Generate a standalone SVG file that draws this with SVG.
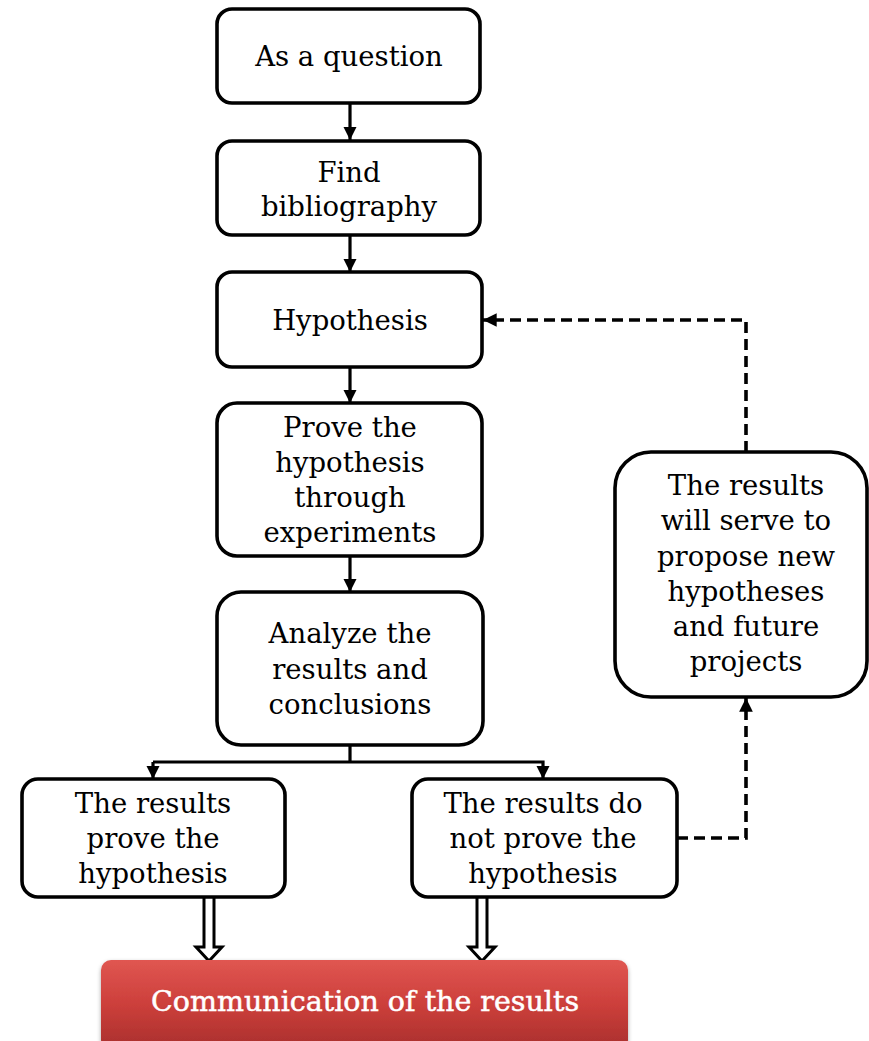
<svg xmlns="http://www.w3.org/2000/svg" width="869" height="1041" viewBox="0 0 869 1041">
<defs>
<style>
.box{fill:#fff;stroke:#000;stroke-width:3.6}
.t{font-family:"DejaVu Serif","Liberation Serif",serif;font-size:27.5px;fill:#000;text-anchor:middle}
.ln{fill:none;stroke:#000;stroke-width:3.2}
.dash{fill:none;stroke:#000;stroke-width:3.6;stroke-dasharray:11,6}
.hollow{fill:#fff;stroke:#000;stroke-width:3;stroke-linejoin:miter}
.ct{font-family:"DejaVu Serif","Liberation Serif",serif;font-size:28.5px;fill:#fff;stroke:#fff;stroke-width:0.5;text-anchor:middle}
</style>
<marker id="ah" viewBox="0 0 10 10" refX="10" refY="5" markerWidth="4.2" markerHeight="4.2" markerUnits="strokeWidth" orient="auto">
<path d="M0,0 L10,5 L0,10 z" fill="#000"/>
</marker>
<marker id="ahd" viewBox="0 0 10 10" refX="10" refY="5" markerWidth="3.8" markerHeight="3.8" markerUnits="strokeWidth" orient="auto">
<path d="M0,0 L10,5 L0,10 z" fill="#000"/>
</marker>
<linearGradient id="red" x1="0" y1="0" x2="0" y2="1">
<stop offset="0" stop-color="#e05651"/>
<stop offset="0.5" stop-color="#cc3f3b"/>
<stop offset="1" stop-color="#a82f2c"/>
</linearGradient>
<filter id="sh" x="-5%" y="-10%" width="110%" height="130%">
<feDropShadow dx="0" dy="2" stdDeviation="2" flood-color="#000" flood-opacity="0.35"/>
</filter>
</defs>

<g id="connectors">
<line class="ln" x1="350" y1="103" x2="350" y2="140" marker-end="url(#ah)"/>
<line class="ln" x1="350" y1="235" x2="350" y2="272" marker-end="url(#ah)"/>
<line class="ln" x1="350" y1="367" x2="350" y2="403" marker-end="url(#ah)"/>
<line class="ln" x1="350" y1="556" x2="350" y2="592" marker-end="url(#ah)"/>
<polyline class="ln" points="350,745 350,762"/>
<polyline class="ln" points="153,762 543,762 543,779" marker-end="url(#ah)"/>
<line class="ln" x1="153" y1="762" x2="153" y2="779" marker-end="url(#ah)"/>
<polyline class="dash" points="677,838 746,838 746,698" marker-end="url(#ahd)"/>
<polyline class="dash" points="746,452 746,320 483,320" marker-end="url(#ahd)"/>
<path class="hollow" d="M204,897 V947 H196 L209,961 L222,947 H214 V897"/>
<path class="hollow" d="M477,897 V947 H469 L482,961 L495,947 H487 V897"/>
</g>

<g id="n1">
<rect class="box" x="217" y="9" width="263" height="94" rx="15"/>
<text class="t" x="349" y="66">As a question</text>
</g>
<g id="n2">
<rect class="box" x="217" y="141" width="263" height="94" rx="15"/>
<text class="t" x="349" y="182">Find</text>
<text class="t" x="349" y="216">bibliography</text>
</g>
<g id="n3">
<rect class="box" x="217" y="272" width="265" height="95" rx="15"/>
<text class="t" x="350" y="330">Hypothesis</text>
</g>
<g id="n4">
<rect class="box" x="217" y="403" width="265" height="153" rx="20"/>
<text class="t" x="350" y="437">Prove the</text>
<text class="t" x="350" y="472">hypothesis</text>
<text class="t" x="350" y="507">through</text>
<text class="t" x="350" y="542">experiments</text>
</g>
<g id="n5">
<rect class="box" x="217" y="592" width="266" height="153" rx="24"/>
<text class="t" x="350" y="643">Analyze the</text>
<text class="t" x="350" y="679">results and</text>
<text class="t" x="350" y="714">conclusions</text>
</g>
<g id="n6">
<rect class="box" x="22" y="779" width="263" height="118" rx="16"/>
<text class="t" x="153" y="813">The results</text>
<text class="t" x="153" y="848">prove the</text>
<text class="t" x="153" y="883">hypothesis</text>
</g>
<g id="n7">
<rect class="box" x="412" y="779" width="265" height="118" rx="16"/>
<text class="t" x="543" y="813">The results do</text>
<text class="t" x="543" y="848">not prove the</text>
<text class="t" x="543" y="883">hypothesis</text>
</g>
<g id="n8">
<rect class="box" x="615" y="452" width="252" height="245" rx="36"/>
<text class="t" x="746" y="495">The results</text>
<text class="t" x="746" y="530">will serve to</text>
<text class="t" x="746" y="566">propose new</text>
<text class="t" x="746" y="601">hypotheses</text>
<text class="t" x="746" y="636">and future</text>
<text class="t" x="746" y="671">projects</text>
</g>
<g id="n9">
<rect x="101" y="960" width="527" height="90" rx="10" fill="url(#red)" filter="url(#sh)"/>
<text class="ct" x="365" y="1011">Communication of the results</text>
</g>
</svg>
